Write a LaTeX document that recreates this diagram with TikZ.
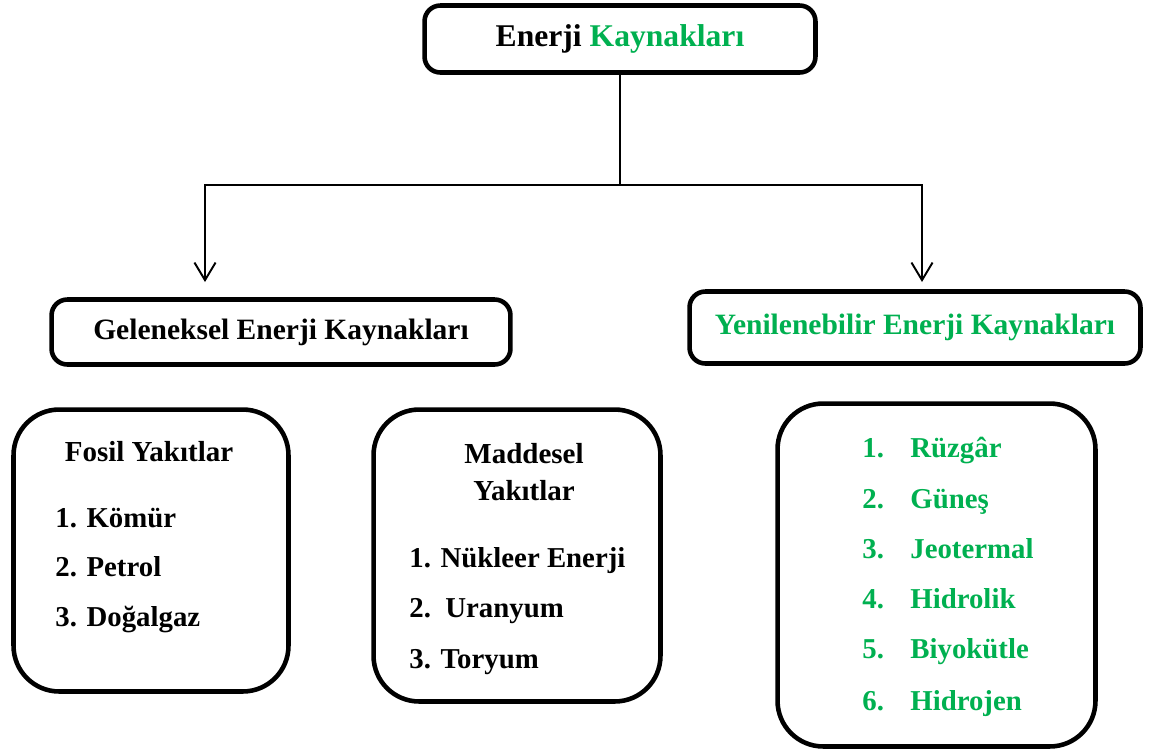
\documentclass[tikz,border=0pt]{standalone}
\usepackage{fontspec}
\setmainfont{Liberation Serif}
\usetikzlibrary{arrows.meta}
\definecolor{yesil}{RGB}{0,176,80}
\tikzset{
  kutu/.style={draw,line width=2.6pt,rounded corners=9pt,align=center},
  liste/.style={draw,line width=2.6pt,rounded corners=26pt},
  ok/.style={line width=1.1pt,-{Straight Barb[length=10pt,width=12pt,line width=1.1pt]}},
  baslik/.style={font=\fontsize{18}{21}\selectfont\bfseries},
  ara/.style={font=\fontsize{16.8}{20}\selectfont\bfseries},
  madde/.style={font=\fontsize{16.4}{19}\selectfont\bfseries,anchor=base west,inner sep=0pt},
  orta/.style={font=\fontsize{16.5}{19}\selectfont\bfseries,anchor=base,inner sep=0pt},
}
\begin{document}
\begin{tikzpicture}[x=0.02cm,y=-0.02cm]
\useasboundingbox (0,0) rectangle (1152,755);
% ust kutu
\node[kutu,baslik,minimum width=7.82cm,minimum height=1.34cm] (enerji) at (620,39) {Enerji \textcolor{yesil}{Kaynakları}};
% ikinci sira
\node[kutu,ara,minimum width=9.18cm,minimum height=1.30cm] (geleneksel) at (281,332) {Geleneksel Enerji Kaynakları};
\node[kutu,ara,text=yesil,minimum width=9.02cm,minimum height=1.44cm] (yenilenebilir) at (915,327.5) {Yenilenebilir Enerji Kaynakları};
% baglantilar
\coordinate (dal) at (620,185);
\coordinate (solok) at (205,282);
\coordinate (sagok) at (922,282);
\draw[line width=1.1pt] (enerji.south) -- (dal);
\draw[ok] (dal) -| (solok);
\draw[ok] (dal) -| (sagok);
% alt kutular
\node[liste,minimum width=5.5cm,minimum height=5.64cm] (fosil) at (151,550.5) {};
\node[liste,minimum width=5.74cm,minimum height=5.84cm] (maddesel) at (517,555.5) {};
\node[liste,minimum width=6.36cm,minimum height=6.86cm] (yenilistesi) at (936.5,575) {};
% fosil yakitlar
\node[orta] (fosilbaslik) at (149,461) {Fosil Yakıtlar};
\node[madde] (komur) at (55,527.7) {1. Kömür};
\node[madde] (petrol) at (55,576.7) {2. Petrol};
\node[madde] (dogalgaz) at (55,626.7) {3. Doğalgaz};
% maddesel yakitlar
\node[orta] (maddeselbaslik) at (524,463) {Maddesel};
\node[orta] (yakitlar) at (524,500) {Yakıtlar};
\node[madde] (nukleer) at (409,567) {1. Nükleer Enerji};
\node[madde] (uranyum) at (409,617) {2.\ \ Uranyum};
\node[madde] (toryum) at (409,668) {3. Toryum};
% yenilenebilir kaynaklar
\node[madde,text=yesil] (n1) at (862,457) {1.};
\node[madde,text=yesil] (ruzgar) at (910,457) {Rüzgâr};
\node[madde,text=yesil] (n2) at (862,508) {2.};
\node[madde,text=yesil] (gunes) at (910,508) {Güneş};
\node[madde,text=yesil] (n3) at (862,558) {3.};
\node[madde,text=yesil] (jeotermal) at (910,558) {Jeotermal};
\node[madde,text=yesil] (n4) at (862,608) {4.};
\node[madde,text=yesil] (hidrolik) at (910,608) {Hidrolik};
\node[madde,text=yesil] (n5) at (862,658) {5.};
\node[madde,text=yesil] (biyokutle) at (910,658) {Biyokütle};
\node[madde,text=yesil] (n6) at (862,710) {6.};
\node[madde,text=yesil] (hidrojen) at (910,710) {Hidrojen};
\end{tikzpicture}
\end{document}
